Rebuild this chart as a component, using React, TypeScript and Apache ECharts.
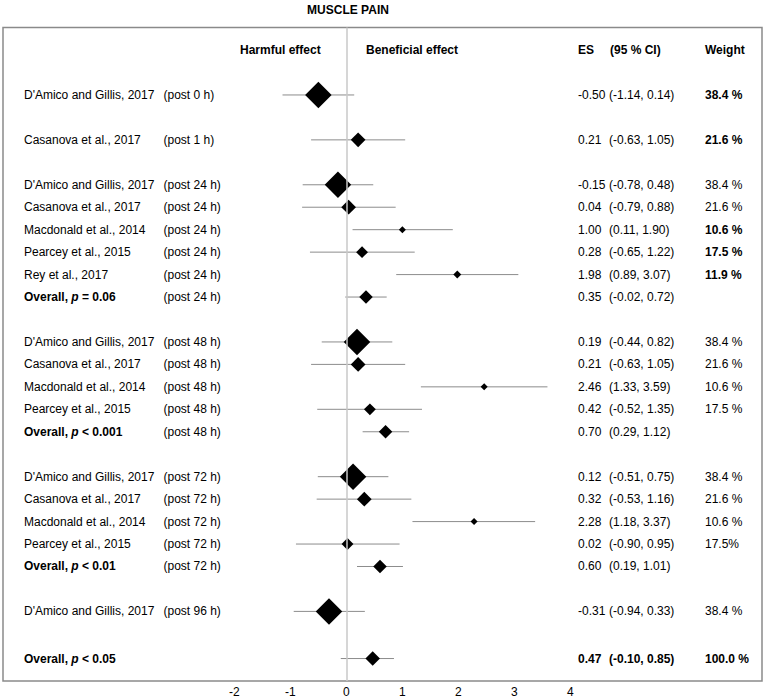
import React, { useEffect, useRef } from "react";
import * as echarts from "echarts";

const studies = [
  "D'Amico and Gillis, 2017",
  "Casanova et al., 2017",
  "D'Amico and Gillis, 2017",
  "Casanova et al., 2017",
  "Macdonald et al., 2014",
  "Pearcey et al., 2015",
  "Rey et al., 2017",
  "Overall, p = 0.06",
  "D'Amico and Gillis, 2017",
  "Casanova et al., 2017",
  "Macdonald et al., 2014",
  "Pearcey et al., 2015",
  "Overall, p < 0.001",
  "D'Amico and Gillis, 2017",
  "Casanova et al., 2017",
  "Macdonald et al., 2014",
  "Pearcey et al., 2015",
  "Overall, p < 0.01",
  "D'Amico and Gillis, 2017",
  "Overall, p < 0.05",
];
const times = [
  "(post 0 h)", "(post 1 h)",
  "(post 24 h)", "(post 24 h)", "(post 24 h)", "(post 24 h)", "(post 24 h)", "(post 24 h)",
  "(post 48 h)", "(post 48 h)", "(post 48 h)", "(post 48 h)", "(post 48 h)",
  "(post 72 h)", "(post 72 h)", "(post 72 h)", "(post 72 h)", "(post 72 h)",
  "(post 96 h)", "",
];
const rowIndex = [2, 4, 6, 7, 8, 9, 10, 11, 13, 14, 15, 16, 17, 19, 20, 21, 22, 23, 25, 27.1];
const es = [-0.5, 0.21, -0.15, 0.04, 1.0, 0.28, 1.98, 0.35, 0.19, 0.21, 2.46, 0.42, 0.7, 0.12, 0.32, 2.28, 0.02, 0.6, -0.31, 0.47];
const ciLow = [-1.14, -0.63, -0.78, -0.79, 0.11, -0.65, 0.89, -0.02, -0.44, -0.63, 1.33, -0.52, 0.29, -0.51, -0.53, 1.18, -0.9, 0.19, -0.94, -0.1];
const ciHigh = [0.14, 1.05, 0.48, 0.88, 1.9, 1.22, 3.07, 0.72, 0.82, 1.05, 3.59, 1.35, 1.12, 0.75, 1.16, 3.37, 0.95, 1.01, 0.33, 0.85];
const weights = [38.4, 21.6, 38.4, 21.6, 10.6, 17.5, 11.9, 0, 38.4, 21.6, 10.6, 17.5, 0, 38.4, 21.6, 10.6, 17.5, 0, 38.4, 100.0];
const weightLabels = [
  "38.4 %", "21.6 %", "38.4 %", "21.6 %", "10.6 %", "17.5 %", "11.9 %", "",
  "38.4 %", "21.6 %", "10.6 %", "17.5 %", "",
  "38.4 %", "21.6 %", "10.6 %", "17.5%", "",
  "38.4 %", "100.0 %",
];
const weightBold = [true, true, false, false, true, true, true, false, false, false, false, false, false, false, false, false, false, false, false, true];
const isOverall = [false, false, false, false, false, false, false, true, false, false, false, false, true, false, false, false, false, true, false, true];
const tickValues = [-2, -1, 0, 1, 2, 3, 4];

const FONT = "'Liberation Sans', Arial, Helvetica, sans-serif";
const BLACK = "#000";

export default function App() {
  const ref = useRef<HTMLDivElement>(null);
  useEffect(() => {
    if (!ref.current) return;
    const chart = echarts.init(ref.current, undefined, { renderer: "svg" });

    const textFor = (i: number) => {
      const s = studies[i];
      if (s.startsWith("Overall, p")) {
        const rest = s.slice("Overall, p".length);
        return `{b|Overall, }{bi|p}{b|${rest}}`;
      }
      return `{n|${s}}`;
    };

    const rich = {
      n: { fontFamily: FONT, fontSize: 12, fontWeight: "normal", fill: BLACK, color: BLACK },
      b: { fontFamily: FONT, fontSize: 12, fontWeight: "bold", fill: BLACK, color: BLACK },
      bi: { fontFamily: FONT, fontSize: 12, fontWeight: "bold", fontStyle: "italic", fill: BLACK, color: BLACK },
    };

    const option: any = {
      animation: false,
      backgroundColor: "#fff",
      grid: {
        left: 3,
        right: 3,
        top: 27.6,
        bottom: 19,
        show: true,
        borderColor: "#8a8a8a",
        borderWidth: 1.5,
        backgroundColor: "transparent",
      },
      xAxis: {
        type: "value",
        min: -6.13,
        max: 7.42,
        splitLine: { show: false },
        axisLine: { show: false },
        axisTick: { show: false },
        axisLabel: {
          customValues: tickValues,
          color: BLACK,
          fontSize: 12,
          fontFamily: FONT,
          margin: 5,
          formatter: (v: number) => String(v),
        },
      },
      yAxis: {
        type: "value",
        inverse: true,
        min: -1,
        max: 28.1,
        show: false,
      },
      graphic: [
        { type: "text", x: 348, y: 10, style: { text: "MUSCLE PAIN", font: `bold 12px ${FONT}`, fill: BLACK, align: "center", verticalAlign: "middle" } },
        { type: "text", x: 240, y: 50, style: { text: "Harmful effect", font: `bold 12px ${FONT}`, fill: BLACK, align: "left", verticalAlign: "middle" } },
        { type: "text", x: 366, y: 50, style: { text: "Beneficial effect", font: `bold 12px ${FONT}`, fill: BLACK, align: "left", verticalAlign: "middle" } },
        { type: "text", x: 578, y: 50, style: { text: "ES", font: `bold 12px ${FONT}`, fill: BLACK, align: "left", verticalAlign: "middle" } },
        { type: "text", x: 610, y: 50, style: { text: "(95 % CI)", font: `bold 12px ${FONT}`, fill: BLACK, align: "left", verticalAlign: "middle" } },
        { type: "text", x: 705, y: 50, style: { text: "Weight", font: `bold 12px ${FONT}`, fill: BLACK, align: "left", verticalAlign: "middle" } },
      ],
      series: [
        {
          type: "custom",
          name: "ci",
          data: rowIndex.map((r, i) => [ciLow[i], r, ciHigh[i]]),
          encode: { x: [0, 2], y: 1 },
          renderItem: (params: any, api: any) => {
            const p1 = api.coord([api.value(0), api.value(1)]);
            const p2 = api.coord([api.value(2), api.value(1)]);
            return {
              type: "line",
              shape: { x1: p1[0], y1: p1[1], x2: p2[0], y2: p2[1] },
              style: { stroke: "#8c8c8c", lineWidth: 1 },
            };
          },
          markLine: {
            silent: true,
            symbol: "none",
            label: { show: false },
            lineStyle: { color: "#c8c8c8", width: 1.5, type: "solid" },
            data: [{ xAxis: 0 }],
          },
          z: 2,
        },
        {
          type: "scatter",
          name: "es",
          symbol: "diamond",
          data: rowIndex.map((r, i) => [es[i], r, i]),
          symbolSize: (val: number[]) => {
            const i = val[2];
            if (isOverall[i]) return i === studies.length - 1 ? 14.5 : 13.5;
            const s = 0.7 * weights[i] - 0.4;
            return [s, s];
          },
          itemStyle: { color: BLACK, opacity: 1 },
          z: 3,
        },
        {
          type: "custom",
          name: "labels",
          data: rowIndex.map((r, i) => [0, r, i]),
          encode: { x: 0, y: 1 },
          renderItem: (params: any, api: any) => {
            const i = api.value(2);
            const y = api.coord([0, api.value(1)])[1];
            const last = i === studies.length - 1;
            const children: any[] = [
              { type: "text", x: 24, y, style: { text: textFor(i), rich, align: "left", verticalAlign: "middle" } },
              { type: "text", x: 163.5, y, style: { text: times[i], font: `12px ${FONT}`, fill: BLACK, align: "left", verticalAlign: "middle" } },
              { type: "text", x: 578, y, style: { text: es[i].toFixed(2), font: `${last ? "bold " : ""}12px ${FONT}`, fill: BLACK, align: "left", verticalAlign: "middle" } },
              { type: "text", x: 609, y, style: { text: `(${ciLow[i].toFixed(2)}, ${ciHigh[i].toFixed(2)})`, font: `${last ? "bold " : ""}12px ${FONT}`, fill: BLACK, align: "left", verticalAlign: "middle" } },
              { type: "text", x: 705, y, style: { text: weightLabels[i], font: `${weightBold[i] ? "bold " : ""}12px ${FONT}`, fill: BLACK, align: "left", verticalAlign: "middle" } },
            ];
            return { type: "group", children };
          },
          z: 4,
        },
      ],
    };
    chart.setOption(option);
    return () => chart.dispose();
  }, []);
  return (
    <div
      ref={ref}
      style={{ position: "absolute", left: 0, top: 0, width: 765, height: 700, background: "#fff" }}
    />
  );
}
